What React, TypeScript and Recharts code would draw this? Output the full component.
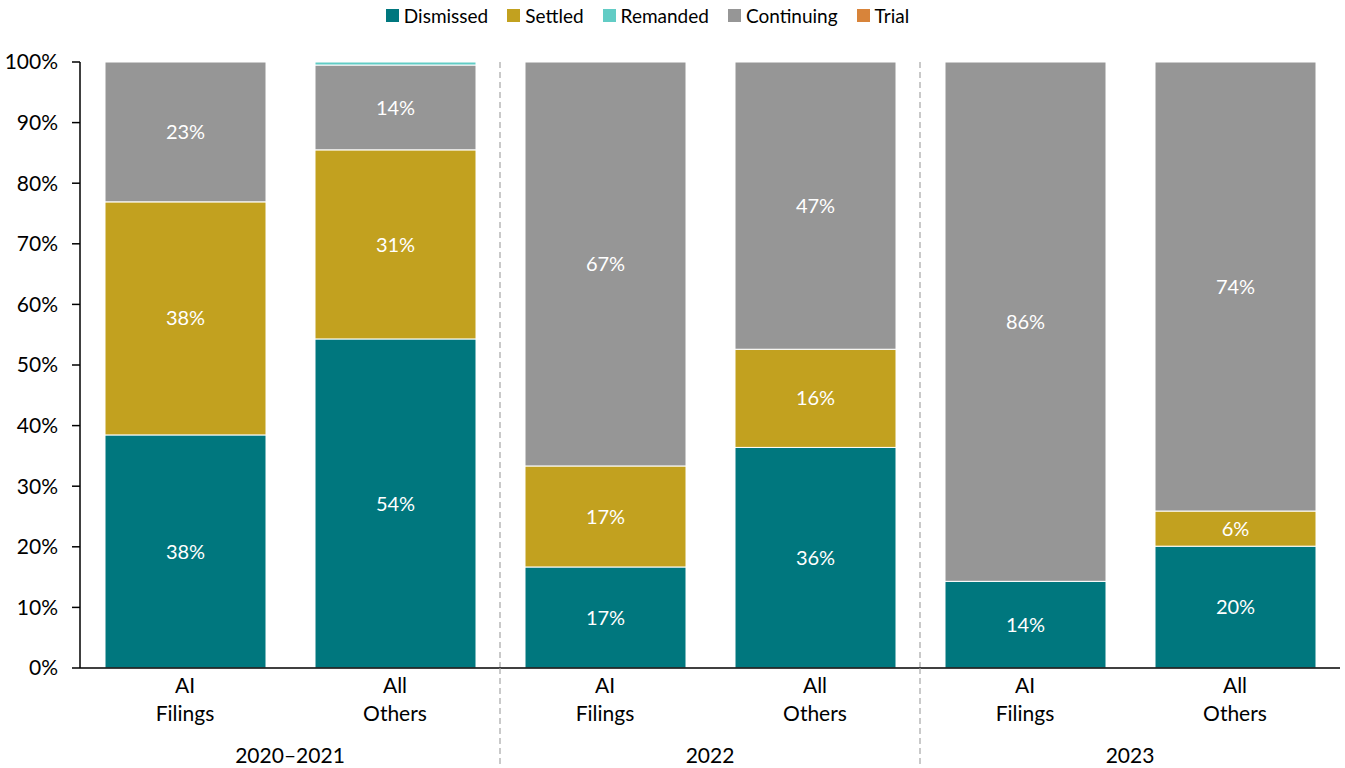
import React from 'react';
import { BarChart, Bar, XAxis, YAxis, Legend, LabelList, ReferenceLine } from 'recharts';

const categories = ['AI\nFilings', 'All\nOthers', 'AI\nFilings ', 'All\nOthers ', 'AI\nFilings  ', 'All\nOthers  '];
const groups = ['2020–2021', '2022', '2023'];
const dismissed = [38.46, 54.3, 16.67, 36.4, 14.3, 20.1];
const settled = [38.46, 31.2, 16.67, 16.2, 0, 5.8];
const remanded = [0, 0.5, 0, 0, 0, 0];
const continuing = [23.08, 14.0, 66.66, 47.4, 85.7, 74.1];
const trial = [0, 0, 0, 0, 0, 0];
const yTicks = [0, 10, 20, 30, 40, 50, 60, 70, 80, 90, 100];

const legendNames = ['Dismissed', 'Settled', 'Remanded', 'Continuing', 'Trial'];
const colorMap: Record<string, string> = {
  Dismissed: '#00777E',
  Settled: '#C2A11F',
  Remanded: '#62CCC5',
  Continuing: '#969696',
  Trial: '#D8843A',
};
// stacking order, bottom to top
const stackOrder = ['Dismissed', 'Settled', 'Continuing', 'Remanded', 'Trial'];
const labelled = ['Dismissed', 'Settled', 'Continuing'];

const data = categories.map((c, i) => ({
  cat: c,
  Dismissed: dismissed[i],
  Settled: settled[i],
  Remanded: remanded[i],
  Continuing: continuing[i],
  Trial: trial[i],
}));

const FONT = 'Lato, "Open Sans", sans-serif';

const XTick = (props: any) => {
  const { x, y, payload, index } = props;
  const half = payload && typeof payload.offset === 'number' && payload.offset > 0 ? payload.offset : 105;
  const lines = String(categories[index]).trim().split('\n');
  return (
    <g>
      <text x={x} y={y} textAnchor="middle" fill="#000" fontSize={21} fontFamily={FONT}>
        <tspan x={x} dy={25}>{lines[0]}</tspan>
        <tspan x={x} dy={28}>{lines[1]}</tspan>
      </text>
      {index % 2 === 0 && (
        <text x={x + half} y={y + 95} textAnchor="middle" fill="#000" fontSize={21} fontFamily={FONT}>
          {groups[index / 2]}
        </text>
      )}
      {index % 2 === 1 && index < categories.length - 1 && (
        <line x1={x + half} x2={x + half} y1={y} y2={y + 100} stroke="#A6A6A6" strokeWidth={1.2} strokeDasharray="6 4" />
      )}
    </g>
  );
};

const LegendContent = () => (
  <div style={{ display: 'flex', justifyContent: 'center', alignItems: 'center', height: 30, fontFamily: FONT, fontSize: 19, color: '#000', paddingRight: 50 }}>
    {legendNames.map((n, i) => (
      <div key={n} style={{ display: 'flex', alignItems: 'center', marginRight: i < legendNames.length - 1 ? 19 : 0 }}>
        <span style={{ width: 13, height: 13, background: colorMap[n], display: 'inline-block', marginRight: 5 }} />
        <span>{n}</span>
      </div>
    ))}
  </div>
);

const labelFmt = (v: any) => (typeof v === 'number' && v >= 2 ? `${Math.round(v)}%` : '');

export default function App() {
  return (
    <div style={{ position: 'absolute', left: 0, top: 0, width: 1345, height: 768, background: '#fff' }}>
      <BarChart width={1345} height={768} data={data} margin={{ top: 32, right: 5, bottom: 0, left: 0 }} barSize={161}>
        <Legend verticalAlign="top" align="center" content={<LegendContent />} wrapperStyle={{ top: 0, left: 0, width: 1345, height: 30 }} />
        <XAxis
          dataKey="cat"
          interval={0}
          height={100}
          tickLine={false}
          tickSize={0}
          tickMargin={0}
          axisLine={{ stroke: '#000', strokeWidth: 1.5 }}
          tick={(p: any) => <XTick {...p} />}
        />
        <YAxis
          width={80}
          domain={[0, 100]}
          ticks={yTicks}
          tickFormatter={(v: number) => `${v}%`}
          tick={{ fill: '#000', fontSize: 21, fontFamily: FONT }}
          tickSize={8}
          tickMargin={14}
          tickLine={{ stroke: '#000', strokeWidth: 1.5 }}
          axisLine={{ stroke: '#000', strokeWidth: 1.5 }}
          interval={0}
        />
        <ReferenceLine x={categories[1]} position="end" stroke="#A6A6A6" strokeWidth={1.2} strokeDasharray="6 4" />
        <ReferenceLine x={categories[3]} position="end" stroke="#A6A6A6" strokeWidth={1.2} strokeDasharray="6 4" />
        {stackOrder.map((n) => (
          <Bar key={n} dataKey={n} stackId="a" fill={colorMap[n]} stroke="#fff" strokeWidth={1} isAnimationActive={false}>
            {labelled.includes(n) && (
              <LabelList dataKey={n} position="center" formatter={labelFmt} fill="#fff" fontSize={20} fontFamily={FONT} />
            )}
          </Bar>
        ))}
      </BarChart>
    </div>
  );
}
